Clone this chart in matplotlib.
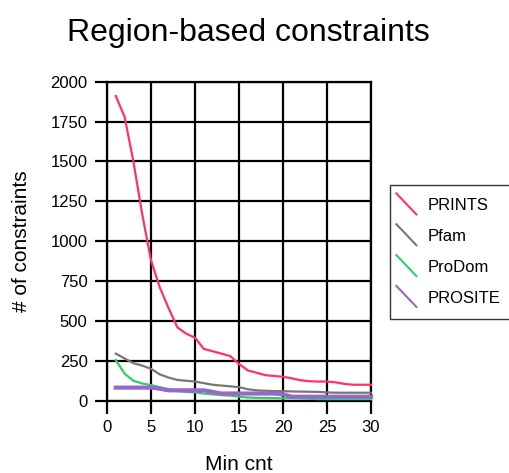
import matplotlib
matplotlib.use("Agg")
import matplotlib.pyplot as plt
from matplotlib.lines import Line2D
from matplotlib.legend_handler import HandlerBase

plt.rcParams['font.family'] = ['Liberation Sans', 'DejaVu Sans']

min_cnt = list(range(1, 31))
prints = [1910, 1780, 1500, 1170, 880, 710, 580, 460, 420, 395,
          325, 310, 295, 280, 230, 190, 175, 160, 155, 150,
          140, 128, 122, 120, 120, 115, 105, 100, 100, 100]
pfam = [295, 265, 235, 220, 200, 165, 145, 130, 125, 120,
        110, 100, 95, 90, 85, 72, 65, 62, 60, 60,
        58, 57, 56, 55, 52, 50, 50, 50, 50, 50]
prodom = [255, 170, 125, 108, 98, 85, 72, 60, 55, 52,
          45, 40, 35, 32, 25, 20, 18, 17, 16, 15,
          15, 14, 12, 10, 10, 10, 10, 10, 10, 10]
prosite = [82, 82, 82, 82, 82, 75, 65, 65, 65, 65,
           65, 55, 45, 45, 45, 45, 45, 45, 45, 40,
           25, 25, 25, 25, 25, 25, 25, 25, 25, 25]
series_names = ["PRINTS", "Pfam", "ProDom", "PROSITE"]
xticks = [0, 5, 10, 15, 20, 25, 30]
yticks = [0, 250, 500, 750, 1000, 1250, 1500, 1750, 2000]

colors = ["#FF3366", "#777777", "#33CC66", "#9966CC"]
widths = [1.6, 1.6, 1.6, 3.0]

fig = plt.figure(figsize=(5.10, 4.73), dpi=100)
ax = fig.add_axes([107/510, 1 - 400.7/473, 264/510, 319/473])

ax.set_xlim(0, 30)
ax.set_ylim(0, 2000)
ax.set_xticks(xticks)
ax.set_yticks(yticks)
ax.grid(True, color="black", linewidth=1.6, zorder=0)
ax.set_axisbelow(True)
for s in ax.spines.values():
    s.set_color("black")
    s.set_linewidth(1.6)
    s.set_zorder(0.5)
ax.tick_params(axis="both", length=9, width=1.6, color="black",
               labelsize=12, pad=5)

handles = []
for vals, name, c, w in zip([prints, pfam, prodom, prosite], series_names, colors, widths):
    ln, = ax.plot(min_cnt, vals, color=c, linewidth=w, label=name, zorder=3,
                  solid_joinstyle="miter", clip_on=False)
    handles.append(ln)


class DiagHandler(HandlerBase):
    def create_artists(self, legend, orig_handle, xdescent, ydescent,
                       width, height, fontsize, trans):
        x0, y0 = -xdescent - 5, -ydescent
        l = Line2D([x0, x0 + width], [y0 + height * 1.45, y0 - height * 0.35],
                   color=orig_handle.get_color(), linewidth=1.5,
                   transform=trans)
        return [l]


leg = fig.legend(handles=handles, labels=series_names,
                 handler_map={Line2D: DiagHandler()},
                 loc="upper left", bbox_to_anchor=(390/510, 1 - 185/473),
                 fontsize=12, frameon=True, fancybox=False, shadow=False,
                 handlelength=1.2, handletextpad=0.25, labelspacing=0.95,
                 borderpad=0.8, borderaxespad=0)
leg.get_frame().set_edgecolor("black")
leg.get_frame().set_linewidth(1.0)

fig.text(248/510, 1 - 33/473, "Region-based constraints", ha="center", va="center",
         fontsize=23)
ax.set_xlabel("Min cnt", fontsize=15, labelpad=14)
ax.set_ylabel("# of constraints", fontsize=15, labelpad=14)

fig.savefig("out.png", dpi=100)
